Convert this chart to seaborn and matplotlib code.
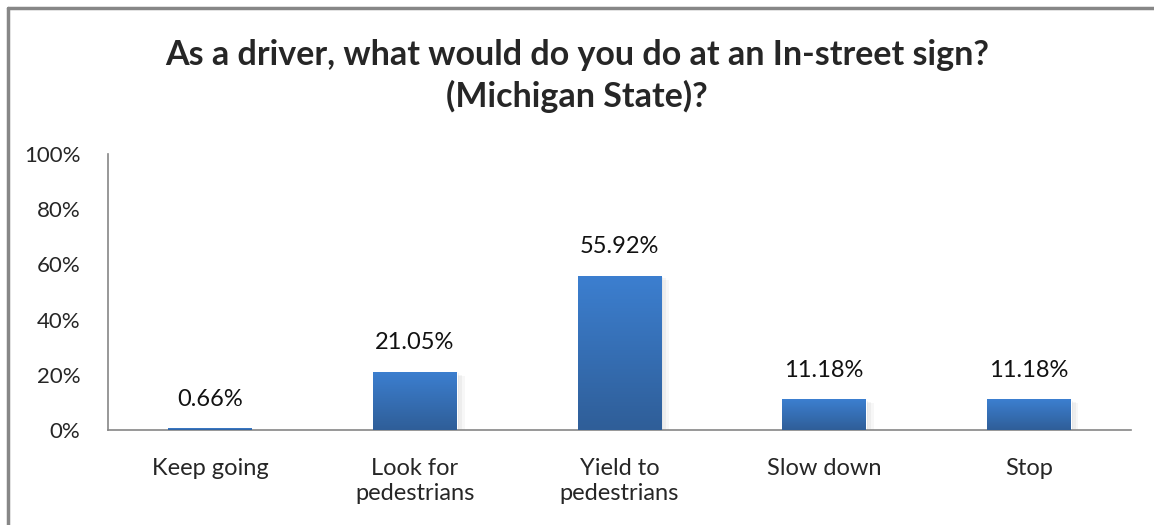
import numpy as np
import pandas as pd
import seaborn as sns
import matplotlib.pyplot as plt
from matplotlib.lines import Line2D

categories = ['Keep going', 'Look for\npedestrians', 'Yield to\npedestrians', 'Slow down', 'Stop']
percent = [0.66, 21.05, 55.92, 11.18, 11.18]
y_ticks = [0, 20, 40, 60, 80, 100]

df = pd.DataFrame({'answer': categories, 'pct': percent})

sns.set_style('white')
plt.rcParams['font.family'] = ['Lato', 'DejaVu Sans']

fig = plt.figure(figsize=(11.54, 5.25), dpi=100)
ax = fig.add_axes([108 / 1154, 1 - 430 / 525, (1131 - 108) / 1154, (430 - 154) / 525])

sns.barplot(data=df, x='answer', y='pct', color='#3a78c8', width=0.41, ax=ax)

# gradient fill + soft shadow on each bar
grad = np.linspace(0, 1, 256).reshape(-1, 1)
cmap = plt.matplotlib.colors.LinearSegmentedColormap.from_list('g', ['#2f5e98', '#3c7fd0'])
for p in ax.patches:
    x0, y0 = p.get_x(), p.get_y()
    w, h = p.get_width(), p.get_height()
    for k, a in enumerate([0.05, 0.04, 0.03]):
        sh = plt.Rectangle((x0 + 0.004 * k, y0 - 0.5 - 0.5 * k), w + 0.01 * (k + 1), h,
                           color='#000000', alpha=a, zorder=1, lw=0)
        ax.add_patch(sh)
    p.set_zorder(2)
    im = ax.imshow(grad, extent=[x0, x0 + w, y0, y0 + h], origin='lower', cmap=cmap,
                   aspect='auto', zorder=3)
    im.set_clip_path(p)
    ax.text(x0 + w / 2, h + 10.5, f'{h:.2f}%', ha='center', va='center', fontsize=17, color='#111111')

ax.set_xlim(-0.5, len(categories) - 0.5)
ax.set_ylim(0, 100)
ax.set_yticks(y_ticks)
ax.set_yticklabels([f'{t}%' for t in y_ticks], fontsize=16)
ax.set_xticks(range(len(categories)))
ax.set_xticklabels(categories, fontsize=17, linespacing=1.25)
ax.set_xticks(np.arange(-0.5, len(categories), 1), minor=True)
ax.tick_params(axis='x', which='major', length=0, pad=20)
ax.tick_params(axis='x', which='minor', length=7, color='#868686', width=1.2, direction='out')
ax.tick_params(axis='y', length=7, color='#868686', width=1.2, direction='out', pad=13)
ax.set_xlabel('')
ax.set_ylabel('')
for s in ['top', 'right']:
    ax.spines[s].set_visible(False)
for s in ['left', 'bottom']:
    ax.spines[s].set_color('#868686')
    ax.spines[s].set_linewidth(1.2)

fig.text(0.5, 1 - 76 / 525, 'As a driver, what would do you do at an In-street sign?\n(Michigan State)?',
         ha='center', va='center', fontsize=24.5, fontweight='bold', linespacing=1.32)

# outer chart frame (partly cropped in the original)
fig.add_artist(Line2D([8 / 1154, 8 / 1154], [0, 1 - 8 / 525], color='#878787', lw=2.5))
fig.add_artist(Line2D([8 / 1154, 1], [1 - 8 / 525, 1 - 8 / 525], color='#878787', lw=2.5))

fig.savefig('out.png', dpi=100)
